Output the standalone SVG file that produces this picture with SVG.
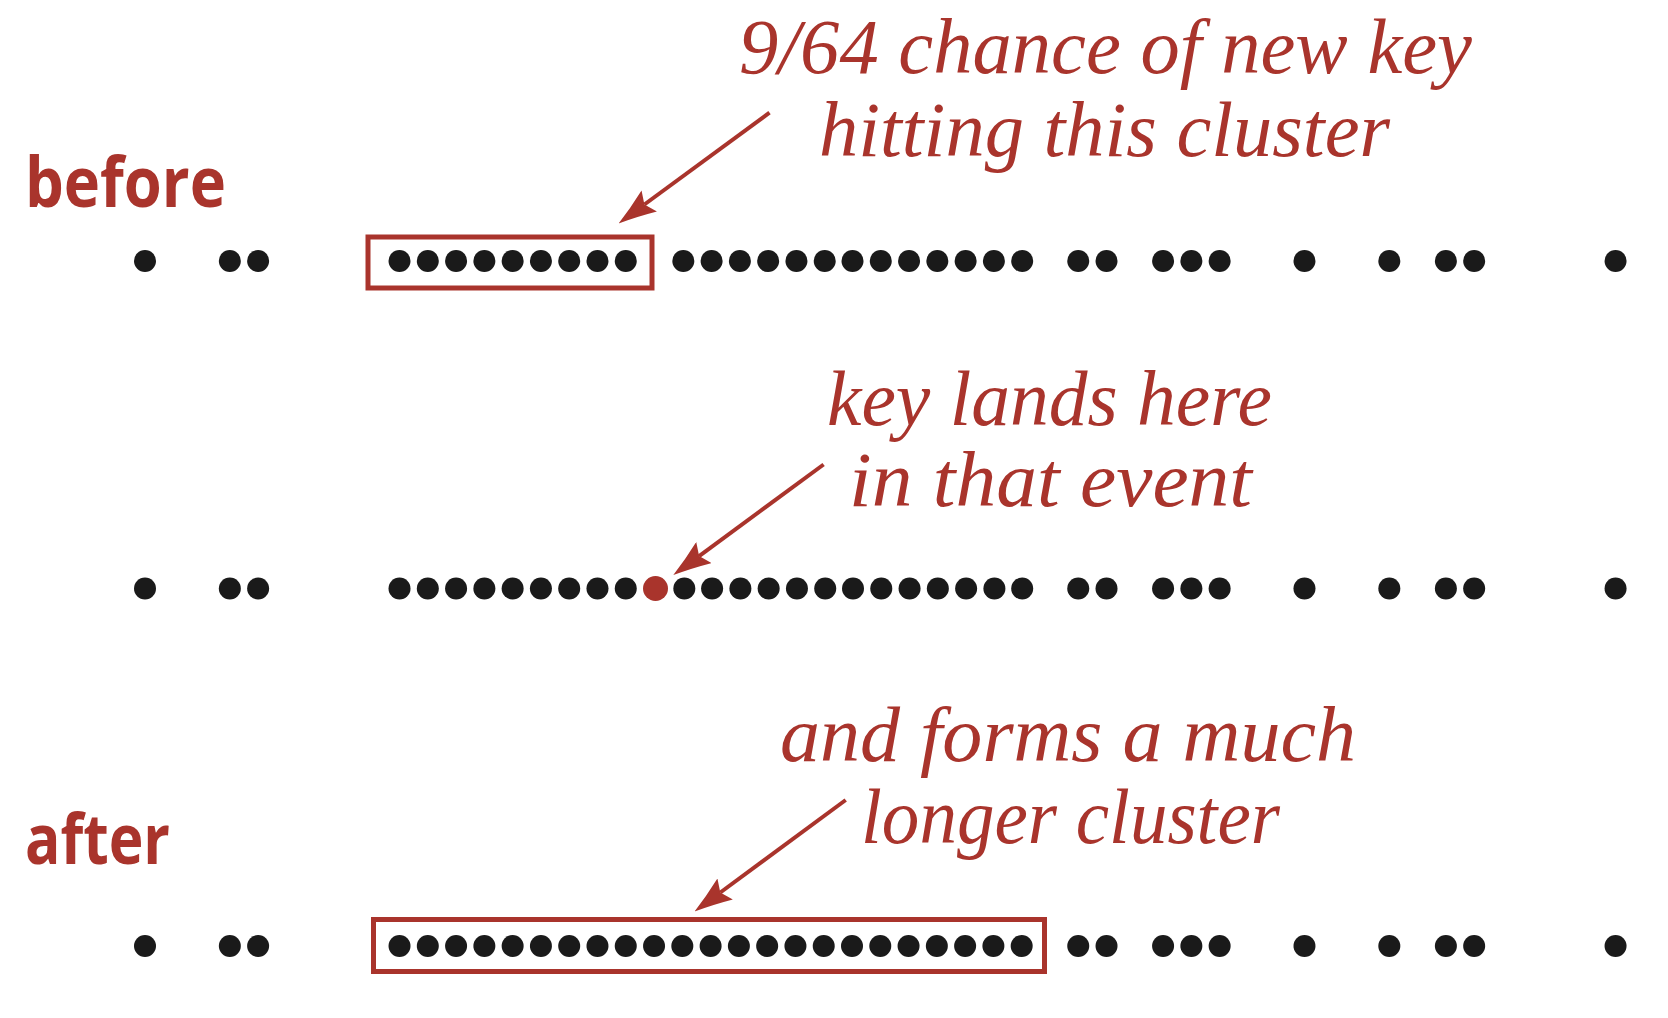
<svg xmlns="http://www.w3.org/2000/svg" xmlns:xlink="http://www.w3.org/1999/xlink" width="1668" height="1018" viewBox="0 0 1668 1018">
<style>
.lbl{font-family:"Open Sans","Liberation Sans",sans-serif;font-weight:700;font-size:70px;fill:#a9342c}
.note{font-family:"Liberation Serif","Times New Roman",serif;font-style:italic;font-size:78px;fill:#a9342c}
.box{fill:none;stroke:#a9342c;stroke-width:5}
.arrow{fill:none;stroke:#a9342c;stroke-width:4}
.dot{fill:#1a1a1a}
</style>
<defs>
<circle id="d" r="11" class="dot"/>
<marker id="ah" markerUnits="userSpaceOnUse" viewBox="0 0 38 26" refX="6" refY="13" markerWidth="38" markerHeight="26" orient="auto">
<path d="M38,13 Q20,8 0,0 L6,13 L0,26 Q20,18 38,13 Z" fill="#a9342c"/>
</marker>
</defs>
<rect width="1668" height="1018" fill="#ffffff"/>

<g id="label-before"><text class="lbl" x="25" y="207" textLength="201" lengthAdjust="spacingAndGlyphs">before</text></g>
<g id="label-after"><text class="lbl" x="25" y="864" textLength="145" lengthAdjust="spacingAndGlyphs">after</text></g>

<g id="note-chance">
<text class="note" x="739" y="73" textLength="733" lengthAdjust="spacingAndGlyphs">9/64 chance of new key</text>
<text class="note" x="819" y="155.5" textLength="571" lengthAdjust="spacingAndGlyphs">hitting this cluster</text>
</g>
<g id="note-lands">
<text class="note" x="827" y="425" textLength="445" lengthAdjust="spacingAndGlyphs">key lands here</text>
<text class="note" x="849" y="506" textLength="403" lengthAdjust="spacingAndGlyphs">in that event</text>
</g>
<g id="note-forms">
<text class="note" x="780" y="761" textLength="576" lengthAdjust="spacingAndGlyphs">and forms a much</text>
<text class="note" x="861" y="843" textLength="419" lengthAdjust="spacingAndGlyphs">longer cluster</text>
</g>

<g id="row-before">
<rect id="box-before" class="box" x="368" y="237" width="284" height="51"/>
<g transform="translate(0,261)">
<use xlink:href="#d" x="145"/><use xlink:href="#d" x="229.84"/><use xlink:href="#d" x="258.12"/>
<use xlink:href="#d" x="399.52"/><use xlink:href="#d" x="427.8"/><use xlink:href="#d" x="456.08"/><use xlink:href="#d" x="484.36"/><use xlink:href="#d" x="512.64"/><use xlink:href="#d" x="540.92"/><use xlink:href="#d" x="569.2"/><use xlink:href="#d" x="597.48"/><use xlink:href="#d" x="625.76"/>
<use xlink:href="#d" x="683.32"/><use xlink:href="#d" x="711.6"/><use xlink:href="#d" x="739.88"/><use xlink:href="#d" x="768.16"/><use xlink:href="#d" x="796.44"/><use xlink:href="#d" x="824.72"/><use xlink:href="#d" x="852.5"/><use xlink:href="#d" x="880.78"/><use xlink:href="#d" x="909.06"/><use xlink:href="#d" x="937.34"/><use xlink:href="#d" x="965.62"/><use xlink:href="#d" x="993.9"/><use xlink:href="#d" x="1022.18"/>
<use xlink:href="#d" x="1078.24"/><use xlink:href="#d" x="1106.52"/>
<use xlink:href="#d" x="1163.08"/><use xlink:href="#d" x="1191.36"/><use xlink:href="#d" x="1219.64"/>
<use xlink:href="#d" x="1304.48"/><use xlink:href="#d" x="1389.32"/><use xlink:href="#d" x="1445.88"/><use xlink:href="#d" x="1474.16"/><use xlink:href="#d" x="1615.56"/>
</g>
</g>

<g id="row-event">
<g transform="translate(0,588.5)">
<use xlink:href="#d" x="145"/><use xlink:href="#d" x="229.84"/><use xlink:href="#d" x="258.12"/>
<use xlink:href="#d" x="399.52"/><use xlink:href="#d" x="427.8"/><use xlink:href="#d" x="456.08"/><use xlink:href="#d" x="484.36"/><use xlink:href="#d" x="512.64"/><use xlink:href="#d" x="540.92"/><use xlink:href="#d" x="569.2"/><use xlink:href="#d" x="597.48"/><use xlink:href="#d" x="625.76"/>
<circle id="new-key" cx="655.5" cy="0" r="12.5" fill="#a9342c"/>
<use xlink:href="#d" x="684.32"/><use xlink:href="#d" x="712.1"/><use xlink:href="#d" x="740.38"/><use xlink:href="#d" x="768.66"/><use xlink:href="#d" x="796.94"/><use xlink:href="#d" x="825.22"/><use xlink:href="#d" x="853"/><use xlink:href="#d" x="881.28"/><use xlink:href="#d" x="909.56"/><use xlink:href="#d" x="937.84"/><use xlink:href="#d" x="966.12"/><use xlink:href="#d" x="994.4"/><use xlink:href="#d" x="1022.18"/>
<use xlink:href="#d" x="1078.24"/><use xlink:href="#d" x="1106.52"/>
<use xlink:href="#d" x="1163.08"/><use xlink:href="#d" x="1191.36"/><use xlink:href="#d" x="1219.64"/>
<use xlink:href="#d" x="1304.48"/><use xlink:href="#d" x="1389.32"/><use xlink:href="#d" x="1445.88"/><use xlink:href="#d" x="1474.16"/><use xlink:href="#d" x="1615.56"/>
</g>
</g>

<g id="row-after">
<rect id="box-after" class="box" x="373.5" y="919.5" width="671" height="52"/>
<g transform="translate(0,946)">
<use xlink:href="#d" x="145"/><use xlink:href="#d" x="229.84"/><use xlink:href="#d" x="258.12"/>
<use xlink:href="#d" x="399.52"/><use xlink:href="#d" x="427.8"/><use xlink:href="#d" x="456.08"/><use xlink:href="#d" x="484.36"/><use xlink:href="#d" x="512.64"/><use xlink:href="#d" x="540.92"/><use xlink:href="#d" x="569.2"/><use xlink:href="#d" x="597.48"/><use xlink:href="#d" x="625.76"/>
<use xlink:href="#d" x="654.04"/>
<use xlink:href="#d" x="682.32"/><use xlink:href="#d" x="710.6"/><use xlink:href="#d" x="738.88"/><use xlink:href="#d" x="767.16"/><use xlink:href="#d" x="795.44"/><use xlink:href="#d" x="823.72"/><use xlink:href="#d" x="852"/><use xlink:href="#d" x="880.28"/><use xlink:href="#d" x="908.56"/><use xlink:href="#d" x="936.84"/><use xlink:href="#d" x="965.12"/><use xlink:href="#d" x="993.4"/><use xlink:href="#d" x="1021.68"/>
<use xlink:href="#d" x="1078.24"/><use xlink:href="#d" x="1106.52"/>
<use xlink:href="#d" x="1163.08"/><use xlink:href="#d" x="1191.36"/><use xlink:href="#d" x="1219.64"/>
<use xlink:href="#d" x="1304.48"/><use xlink:href="#d" x="1389.32"/><use xlink:href="#d" x="1445.88"/><use xlink:href="#d" x="1474.16"/><use xlink:href="#d" x="1615.56"/>
</g>
</g>

<g id="connectors">
<line class="arrow" x1="769.5" y1="112.7" x2="644.4" y2="204.5" marker-end="url(#ah)"/>
<line class="arrow" x1="823.6" y1="464.5" x2="699.1" y2="556.1" marker-end="url(#ah)"/>
<line class="arrow" x1="845.7" y1="800" x2="720.3" y2="892.5" marker-end="url(#ah)"/>
</g>
</svg>
